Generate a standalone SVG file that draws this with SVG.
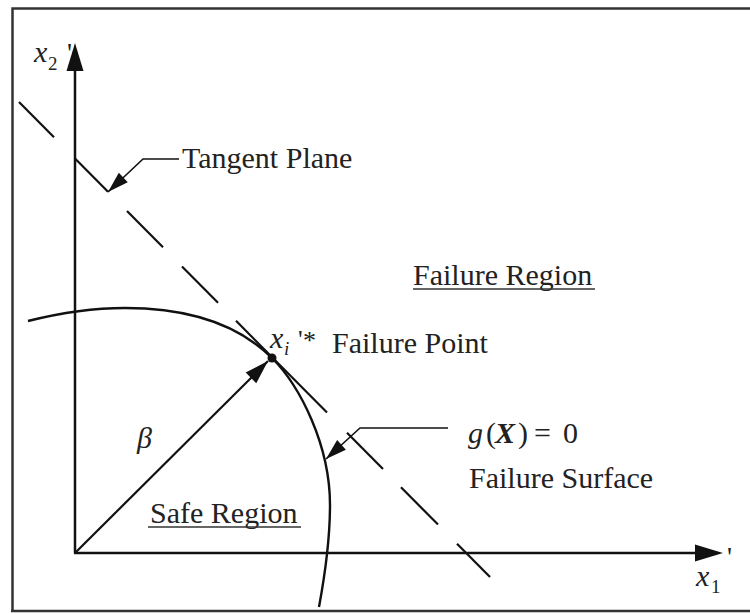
<svg xmlns="http://www.w3.org/2000/svg" width="750" height="614" viewBox="0 0 750 614">
<style>
.t{font-family:"Liberation Serif","Times New Roman",serif;font-size:30px;fill:#222}
.m{font-family:"Liberation Serif","Times New Roman",serif;fill:#222}
.it{font-style:italic}
.ln{stroke:#111;fill:none;stroke-linecap:butt}
.ul{stroke:#333;stroke-width:1.5}
</style>
<defs>
<marker id="ah" markerUnits="userSpaceOnUse" viewBox="-1 -8 24 16" refX="21" refY="0" markerWidth="24" markerHeight="16" orient="auto">
<path d="M0,-6.5 L21,0 L0,6.5 z" fill="#111"/>
</marker>
<marker id="ahb" markerUnits="userSpaceOnUse" viewBox="-1 -9 26 18" refX="24" refY="0" markerWidth="26" markerHeight="18" orient="auto">
<path d="M0,-7.5 L24,0 L0,7.5 z" fill="#111"/>
</marker>
</defs>
<rect width="750" height="614" fill="#fff"/>
<g id="frame" stroke="#333" stroke-width="2.5" fill="none">
<path d="M12.5,611 L12.5,8.5 L750,8.5 M11,611 L750,611"/>
</g>
<g id="axis-x2">
<line class="ln" x1="75" y1="553" x2="75" y2="68" stroke-width="2.5"/>
<polygon points="75,43 66.5,71 83.5,71" fill="#111"/>
<text class="m it" x="34" y="62" font-size="30">x</text>
<text class="m" x="48" y="70" font-size="19">2</text>
<text class="m" x="67" y="62" font-size="28">'</text>
</g>
<g id="axis-x1">
<line class="ln" x1="74" y1="553" x2="698" y2="553" stroke-width="2.5"/>
<polygon points="723,553 695,544.5 695,561.5" fill="#111"/>
<text class="m it" x="696" y="586" font-size="30">x</text>
<text class="m" x="711" y="593" font-size="19">1</text>
<text class="m" x="727" y="566" font-size="28">'</text>
</g>
<g id="tangent-line" class="ln" stroke-width="2.2">
<line x1="19" y1="102" x2="54" y2="137.3"/>
<line x1="75" y1="158.5" x2="108" y2="191.8"/>
<line x1="127" y1="210.9" x2="163" y2="247.2"/>
<line x1="182" y1="266.4" x2="218" y2="302.7"/>
<line x1="236" y1="320.8" x2="327" y2="412.6"/>
<line x1="347" y1="432.8" x2="383" y2="469.1"/>
<line x1="401" y1="487.2" x2="438" y2="524.6"/>
<line x1="457" y1="543.7" x2="490" y2="577"/>
</g>
<g id="failure-surface">
<path class="ln" stroke-width="2.4" d="M28,321 C60,313 93,308 125,308 C185,308 237,323 272,358 C300,386 330,445 330,505 C330,540 324,580 319,607"/>
</g>
<g id="failure-point">
<circle cx="272" cy="358" r="4.5" fill="#111"/>
<text class="m it" x="270" y="348" font-size="30">x</text>
<text class="m it" x="284" y="355" font-size="19">i</text>
<text class="m" x="298" y="348" font-size="26">'</text>
<text class="m" x="303" y="349" font-size="26">*</text>
<text class="t" x="332" y="353">Failure Point</text>
</g>
<g id="tangent-plane">
<text class="t" x="182" y="168" font-size="29">Tangent Plane</text>
</g>
<g id="failure-region">
<text class="t" x="413" y="285">Failure Region</text>
<line class="ul" x1="413" y1="289" x2="595" y2="289"/>
</g>
<g id="safe-region">
<text class="t" x="150" y="523">Safe Region</text>
<line class="ul" x1="148" y1="527" x2="301" y2="527"/>
</g>
<g id="limit-state">
<text class="m it" x="468" y="443" font-size="30">g</text>
<text class="m" x="486" y="443" font-size="30">(</text>
<text class="m it" x="495" y="443" font-size="30" font-weight="bold">X</text>
<text class="m" x="518" y="443" font-size="30">)</text>
<text class="m" x="534" y="443" font-size="30">=</text>
<text class="m" x="563" y="443" font-size="30">0</text>
<text class="t" x="469" y="488">Failure Surface</text>
</g>
<g id="beta">
<text class="m it" x="137" y="448" font-size="30">β</text>
</g>
<g id="connectors" class="ln">
<line x1="75" y1="553" x2="268" y2="361" stroke-width="2.2" marker-end="url(#ahb)"/>
<polyline points="179,159 143,159 108,192" stroke-width="1.6" marker-end="url(#ah)"/>
<polyline points="448,428 360,428 326,459" stroke-width="1.6" marker-end="url(#ah)"/>
</g>
</svg>
